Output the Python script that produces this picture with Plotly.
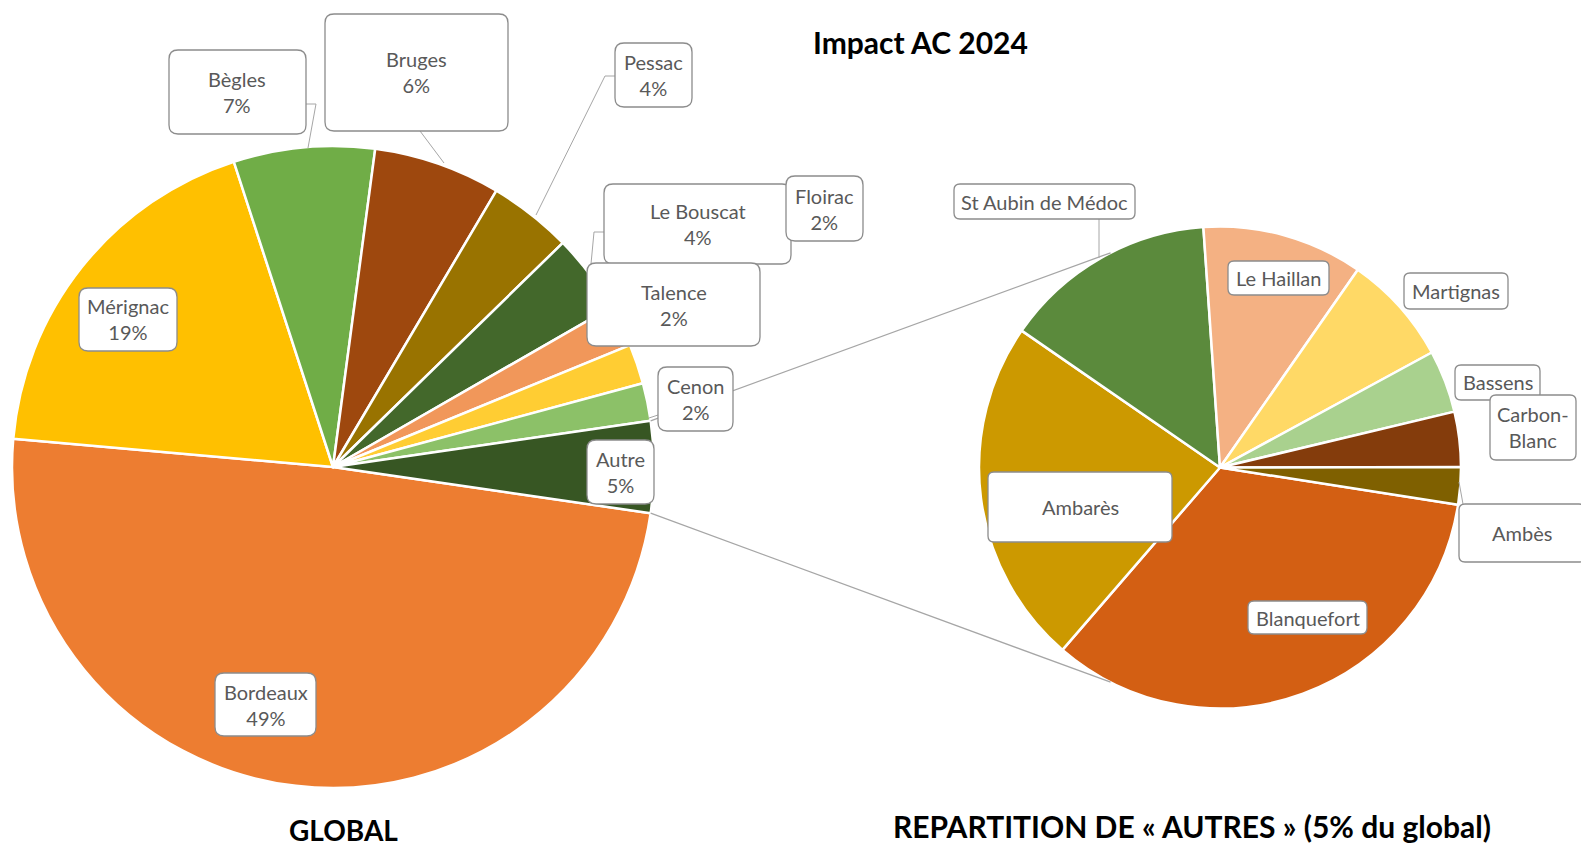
import math
import plotly.graph_objects as go

# ---------------- data ----------------
global_names = ["Bordeaux", "Mérignac", "Bègles", "Bruges", "Pessac",
                "Le Bouscat", "Talence", "Floirac", "Cenon", "Autre"]
global_values = [49.1, 18.6, 7.1, 6.4, 4.2, 4.0, 2.1, 2.0, 1.9, 4.6]
global_colors = ["#ED7D31", "#FFC000", "#70AD47", "#9E480E", "#997300",
                 "#43682B", "#F1975A", "#FFCD33", "#8CC168", "#375623"]

autres_names = ["Blanquefort", "Ambarès", "St Aubin de Médoc", "Le Haillan",
                "Martignas", "Bassens", "Carbon-Blanc", "Ambès"]
autres_values = [33.9, 23.3, 14.3, 10.8, 7.4, 4.2, 3.7, 2.5]
autres_colors = ["#D35F13", "#CC9900", "#5B8A3C", "#F4B183",
                 "#FFD966", "#A9D18E", "#843C0C", "#7F6000"]

title_text = "Impact AC 2024"
left_caption = "GLOBAL"
right_caption = "REPARTITION DE « AUTRES » (5% du global)"

# ---------------- layout geometry (pixels) ----------------
W, H = 1581, 848
L_CX, L_CY, L_R = 333, 467, 321
R_CX, R_CY, R_R = 1220, 467.5, 241


def fx(x):
    return x / W


def fy(y):
    return 1 - y / H


def rrect(x0, y0, x1, y1, r=9):
    pts = [("M", x0 + r, y0), ("L", x1 - r, y0), ("Q", x1, y0, x1, y0 + r),
           ("L", x1, y1 - r), ("Q", x1, y1, x1 - r, y1), ("L", x0 + r, y1),
           ("Q", x0, y1, x0, y1 - r), ("L", x0, y0 + r), ("Q", x0, y0, x0 + r, y0)]
    s = ""
    for p in pts:
        cmd = p[0]
        coords = p[1:]
        parts = []
        for i in range(0, len(coords), 2):
            parts.append(f"{fx(coords[i]):.6f},{fy(coords[i+1]):.6f}")
        s += cmd + " " + " ".join(parts) + " "
    return s + "Z"


autre_share = global_values[-1] / sum(global_values)
left_rotation = 90 + autre_share * 360 / 2
right_rotation = 98.9

fig = go.Figure()
fig.add_trace(go.Pie(
    labels=global_names, values=global_values, sort=False, direction="clockwise",
    rotation=left_rotation, textinfo="none", showlegend=False,
    marker=dict(colors=global_colors, line=dict(color="white", width=2.5)),
    domain=dict(x=[fx(L_CX - L_R), fx(L_CX + L_R)], y=[fy(L_CY + L_R), fy(L_CY - L_R)]),
))
fig.add_trace(go.Pie(
    labels=autres_names, values=autres_values, sort=False, direction="clockwise",
    rotation=right_rotation, textinfo="none", showlegend=False,
    marker=dict(colors=autres_colors, line=dict(color="white", width=2.5)),
    domain=dict(x=[fx(R_CX - R_R), fx(R_CX + R_R)], y=[fy(R_CY + R_R), fy(R_CY - R_R)]),
))

shapes = []
line_col = "#A6A6A6"

# connector lines between the "Autre" slice and the second pie
half = math.radians(autre_share * 360 / 2)
end_ang = math.radians(117)
for sgn in (1, -1):
    x0 = L_CX + L_R * math.cos(half)
    y0 = L_CY - sgn * L_R * math.sin(half)
    x1 = R_CX + R_R * math.cos(end_ang)
    y1 = R_CY - sgn * R_R * math.sin(end_ang)
    shapes.append(dict(type="line", xref="paper", yref="paper",
                       x0=fx(x0), y0=fy(y0), x1=fx(x1), y1=fy(y1),
                       line=dict(color=line_col, width=1.3), layer="above"))

# leader lines (pixel polylines)
leaders = [
    [(306, 104), (316, 104), (308, 148)],          # Bègles
    [(420, 131), (444, 163)],                      # Bruges
    [(615, 76), (605, 76), (536, 215)],            # Pessac
    [(605, 232), (594, 232), (591, 264)],          # Le Bouscat
    [(658, 415), (649, 418)],                      # Cenon
    [(1099, 219), (1099, 258)],                    # St Aubin
    [(1459, 482), (1463, 504)],                    # Ambès
]
for pl in leaders:
    d = "M " + " L ".join(f"{fx(x):.6f},{fy(y):.6f}" for x, y in pl)
    shapes.append(dict(type="path", xref="paper", yref="paper", path=d,
                       line=dict(color=line_col, width=1), layer="above"))

# label boxes (pixel boxes: x0, y0, x1, y1)
left_boxes = {
    "Bordeaux": (215, 673, 316, 736),
    "Mérignac": (79, 288, 177, 351),
    "Bègles": (169, 50, 306, 134),
    "Bruges": (325, 14, 508, 131),
    "Pessac": (615, 43, 692, 107),
    "Le Bouscat": (604, 184, 791, 264),
    "Floirac": (786, 176, 863, 241),
    "Talence": (587, 263, 760, 346),
    "Cenon": (658, 367, 733, 431),
    "Autre": (587, 440, 654, 504),
}
right_boxes = {
    "St Aubin de Médoc": (954, 184, 1135, 219),
    "Le Haillan": (1228, 261, 1329, 295),
    "Martignas": (1404, 273, 1508, 309),
    "Bassens": (1455, 365, 1540, 400),
    "Carbon-Blanc": (1490, 395, 1576, 460),
    "Ambarès": (988, 472, 1172, 542),
    "Blanquefort": (1248, 601, 1367, 634),
    "Ambès": (1459, 504, 1585, 562),
}
right_texts = {"Carbon-Blanc": "Carbon-<br>Blanc"}

annotations = []
lab_font = dict(family="Lato, Calibri, sans-serif", size=20, color="#595959")

for name, val in zip(global_names, global_values):
    x0, y0, x1, y1 = left_boxes[name]
    shapes.append(dict(type="path", xref="paper", yref="paper", path=rrect(x0, y0, x1, y1),
                       fillcolor="white", line=dict(color="#8C8C8C", width=1.3), layer="above"))
    annotations.append(dict(xref="paper", yref="paper", x=fx((x0 + x1) / 2), y=fy((y0 + y1) / 2),
                            text=f"{name}<br>{round(val)}%", showarrow=False, font=lab_font,
                            xanchor="center", yanchor="middle"))

for name in autres_names:
    x0, y0, x1, y1 = right_boxes[name]
    shapes.append(dict(type="path", xref="paper", yref="paper", path=rrect(x0, y0, x1, y1, r=6),
                       fillcolor="white", line=dict(color="#8C8C8C", width=1.3), layer="above"))
    annotations.append(dict(xref="paper", yref="paper", x=fx((x0 + x1) / 2), y=fy((y0 + y1) / 2),
                            text=right_texts.get(name, name), showarrow=False, font=lab_font,
                            xanchor="center", yanchor="middle"))

bold_font = dict(family="Lato, Calibri, sans-serif", size=30, color="black")
annotations.append(dict(xref="paper", yref="paper", x=fx(920), y=fy(42), text=f"<b>{title_text}</b>",
                        showarrow=False, font=bold_font, xanchor="center", yanchor="middle"))
annotations.append(dict(xref="paper", yref="paper", x=fx(343), y=fy(830), text=f"<b>{left_caption}</b>",
                        showarrow=False, font=dict(family="Lato, Calibri, sans-serif", size=28, color="black"),
                        xanchor="center", yanchor="middle"))
annotations.append(dict(xref="paper", yref="paper", x=fx(1192), y=fy(826), text=f"<b>{right_caption}</b>",
                        showarrow=False, font=bold_font, xanchor="center", yanchor="middle"))

fig.update_layout(
    width=W, height=H, margin=dict(l=0, r=0, t=0, b=0),
    paper_bgcolor="white", plot_bgcolor="white",
    shapes=shapes, annotations=annotations, showlegend=False,
)

fig.write_html("out.html", config={"displayModeBar": False},
               post_script="document.body.style.margin='0px';document.body.style.overflow='hidden';")
